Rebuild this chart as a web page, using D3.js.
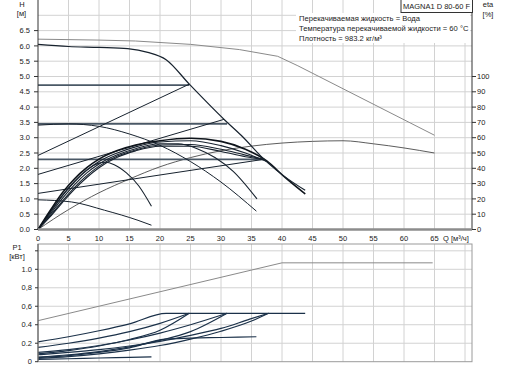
<!DOCTYPE html>
<html>
<head>
<meta charset="utf-8">
<script src="https://cdn.jsdelivr.net/npm/d3@7"></script>
<style>
  body { margin: 0; background: #fff; }
  svg { font-family: "Liberation Sans", Arial, sans-serif; }
</style>
</head>
<body>
<div class="chart"></div>
<script>
// ---- data ----
// x ticks (Q, m3/h)
var qTicks = [0, 5, 10, 15, 20, 25, 30, 35, 40, 45, 50, 55, 60, 65];
var hTicks = [0, 0.5, 1, 1.5, 2, 2.5, 3, 3.5, 4, 4.5, 5, 5.5, 6, 6.5];
var etaTicks = [0, 10, 20, 30, 40, 50, 60, 70, 80, 90, 100];
var pTicks = [0, 0.2, 0.4, 0.6, 0.8, 1.0];
var pTickLabels = ["0", "0.2", "0.4", "0,6", "0,8", "1.0"];

// QH curves [Q, H]
var grayMax = [[0, 6.22], [10, 6.19], [16, 6.16], [25, 6.05], [33, 5.88], [39.3, 5.66], [42.6, 5.35], [65, 3.08]];
var maxCurve = [[0, 6.05], [5, 5.98], [10, 5.95], [14.7, 5.91], [18, 5.79], [21, 5.55], [24.8, 4.75], [30.6, 3.58], [33.3, 3.08], [37.5, 2.21], [40.5, 1.72], [43.8, 1.28]];
var pp1 = [[0, 2.42], [24.8, 4.75]];
var pp2 = [[0, 1.8], [30.5, 3.6]];
var pp3 = [[0, 1.18], [36.9, 2.29]];
var cp1 = [[0, 4.72], [24.8, 4.72]];
var cp2 = [[0, 3.45], [31, 3.45]];
var cp3 = [[0, 2.29], [37.1, 2.29]];
var lowCurve = [[0, 0.97], [5.5, 0.9], [10.9, 0.63], [16.4, 0.3], [18.6, 0.14]];
var midCurve = [[0, 3.41], [5, 3.45], [10, 3.37], [15, 3.12], [20, 2.75], [25, 2.22], [30, 1.55], [35.8, 0.6]];
var auto1 = [[0, 0], [2, 0.62], [4, 1.2], [6, 1.66], [8, 2.02], [10, 2.3], [13, 2.58], [16, 2.76], [20, 2.9], [25, 2.98], [30, 2.88], [34, 2.62], [37.5, 2.24], [40.5, 1.7], [43.8, 1.16]];
var auto2 = [[0, 0], [2, 0.55], [4, 1.1], [6, 1.56], [8, 1.93], [10, 2.22], [13, 2.5], [16, 2.7], [20, 2.86], [25, 2.9], [30, 2.74], [34, 2.5], [37.5, 2.22]];
var auto3 = [[0, 0], [2, 0.5], [4, 1.02], [6, 1.47], [8, 1.85], [10, 2.14], [13, 2.44], [16, 2.64], [20, 2.8], [23, 2.8], [26, 2.65], [29, 2.35], [32, 1.9], [35.9, 1.0]];
var auto4 = [[0, 0], [2, 0.58], [4, 1.12], [6, 1.58], [8, 1.95], [10, 2.17], [11, 2.2], [12.5, 2.12], [14.5, 1.85], [16.5, 1.43], [18.6, 0.76]];
var auto5 = [[0, 0], [2, 0.45], [4, 0.93], [6, 1.38], [8, 1.76], [10, 2.07], [13, 2.4], [16, 2.6], [20, 2.76], [25, 2.78], [30, 2.62], [34, 2.43], [37.1, 2.29]];
var auto6 = [[0, 0], [2, 0.42], [4, 0.88], [6, 1.32], [8, 1.7], [10, 2.02], [13, 2.36], [16, 2.57], [20, 2.72], [25, 2.72], [30, 2.55], [34, 2.38], [37.1, 2.29]];

// efficiency [Q, eta %]
var etaCurve = [[0, 0], [5, 13], [10, 24], [15, 33], [20, 41], [25, 47], [30, 51.5], [35, 54.5], [40, 56.5], [45, 57.6], [50, 58], [55, 56], [60, 53.3], [65, 50]];

// power [Q, P1 kW]
var pGray = [[0, 0.444], [40, 1.07], [64.7, 1.07]];
var pMax = [[0, 0.215], [5, 0.27], [10, 0.335], [15, 0.41], [21, 0.524], [43.8, 0.524]];
var pA = [[0, 0.155], [5, 0.2], [10, 0.255], [15, 0.325], [20, 0.415], [24.8, 0.524]];
var pB = [[0, 0.085], [5, 0.12], [10, 0.17], [15, 0.24], [20, 0.34], [24.8, 0.524]];
var pC = [[0, 0.1], [5, 0.13], [10, 0.175], [15, 0.235], [20, 0.31], [25, 0.4], [31, 0.524]];
var pD = [[0, 0.05], [5, 0.075], [10, 0.11], [15, 0.16], [20, 0.23], [25, 0.325], [31, 0.524]];
var pE = [[0, 0.075], [5, 0.1], [10, 0.13], [15, 0.17], [20, 0.22], [25, 0.285], [30, 0.36], [34.7, 0.46], [37.8, 0.524]];
var pF = [[0, 0.035], [5, 0.055], [10, 0.085], [15, 0.125], [20, 0.175], [25, 0.245], [30, 0.33], [35, 0.44], [37.8, 0.524]];
var pG = [[0, 0.045], [5, 0.065], [10, 0.1], [15, 0.15], [20.8, 0.245], [25, 0.255], [30, 0.262], [35.8, 0.27]];
var pH = [[0, 0.025], [5, 0.032], [10, 0.04], [15, 0.047], [18.6, 0.052]];

var infoLines = ["Перекачиваемая жидкость = Вода", "Температура перекачиваемой жидкости = 60 °C", "Плотность = 983.2 кг/м³"];

// ---- layout ----
var svgWidth = 508;
var svgHeight = 368;
var left = 38, right = 472;
var topY0 = 229.5;           // H = 0
var botTop = 244, botY0 = 361.7;

var svg = d3.select(".chart").append("svg")
  .attr("width", svgWidth)
  .attr("height", svgHeight);

var x = d3.scaleLinear().domain([0, 70]).range([left, 465]);
var yH = d3.scaleLinear().domain([0, 7.5]).range([topY0, 0]);
var yEta = d3.scaleLinear().domain([0, 150]).range([topY0, 0]);
var yP = d3.scaleLinear().domain([0, 1.0]).range([botY0, 269.3]);

var gridColor = "#d2d2d2";
var gridQ = d3.range(5, 71, 5);

// top grid
var grid = svg.append("g");
grid.selectAll(".vt").data(gridQ).enter().append("line")
  .attr("x1", d => x(d)).attr("x2", d => x(d))
  .attr("y1", 0).attr("y2", topY0)
  .attr("stroke", gridColor);
grid.selectAll(".ht").data(d3.range(0.5, 7.01, 0.5)).enter().append("line")
  .attr("x1", left).attr("x2", right)
  .attr("y1", d => yH(d)).attr("y2", d => yH(d))
  .attr("stroke", gridColor);

// bottom grid
grid.selectAll(".vb").data(gridQ).enter().append("line")
  .attr("x1", d => x(d)).attr("x2", d => x(d))
  .attr("y1", botTop).attr("y2", botY0)
  .attr("stroke", gridColor);
grid.selectAll(".hb").data([0.2, 0.4, 0.6, 0.8, 1.0, 1.2]).enter().append("line")
  .attr("x1", left).attr("x2", right)
  .attr("y1", d => yP(d)).attr("y2", d => yP(d))
  .attr("stroke", gridColor);

// white box behind the info text
svg.append("rect")
  .attr("x", 296).attr("y", 13).attr("width", 174).attr("height", 30)
  .attr("fill", "#fff");

// curves
function lineFor(ys, curve) {
  return d3.line().x(d => x(d[0])).y(d => ys(d[1])).curve(curve || d3.curveMonotoneX);
}

function draw(gen, data, color, width) {
  svg.append("path")
    .attr("d", gen(data))
    .attr("fill", "none")
    .attr("stroke", color)
    .attr("stroke-width", width);
}

var lineH = lineFor(yH);
var lineHlin = lineFor(yH, d3.curveLinear);
var lineEta = lineFor(yEta);
var lineP = lineFor(yP);
var linePlin = lineFor(yP, d3.curveLinear);

var dark = "#17222e";

draw(lineHlin, grayMax, "#8a8a8a", 1);
draw(lineEta, etaCurve, "#4a4a4a", 0.9);
[cp1, cp2, cp3].forEach(d => draw(lineHlin, d, "#4a5866", 1.8));
[pp1, pp2, pp3].forEach(d => draw(lineHlin, d, dark, 1));
draw(lineH, lowCurve, dark, 1);
draw(lineH, midCurve, dark, 1);
[auto2, auto3, auto4, auto5, auto6].forEach(d => draw(lineH, d, dark, 1.1));
draw(lineH, auto1, "#0e141b", 1.6);
draw(lineH, maxCurve, dark, 1.2);

draw(linePlin, pGray, "#8a8a8a", 1);
[pH, pG, pF, pE, pD, pC, pB, pA, pMax].forEach(d => draw(lineP, d, "#1b3149", 1.2));

// ---- axes ----
var axisColor = "#333";
var fs = "7.5px";

// left H axis
svg.append("line").attr("x1", left).attr("x2", left).attr("y1", 0).attr("y2", topY0)
  .attr("stroke", axisColor);
svg.selectAll(".htk").data(hTicks).enter().append("line")
  .attr("x1", left - 4).attr("x2", left)
  .attr("y1", d => yH(d)).attr("y2", d => yH(d))
  .attr("stroke", axisColor);
svg.selectAll(".hlb").data(hTicks).enter().append("text")
  .attr("x", 30).attr("y", d => yH(d) + 2.6)
  .attr("text-anchor", "end").attr("font-size", fs).attr("fill", "#222")
  .text(d => d.toFixed(1));
svg.append("text").attr("x", 22).attr("y", 6.5).attr("text-anchor", "middle")
  .attr("font-size", fs).attr("fill", "#222").text("H");
svg.append("text").attr("x", 21.5).attr("y", 16).attr("text-anchor", "middle")
  .attr("font-size", fs).attr("fill", "#222").text("[м]");

// right eta axis
svg.append("line").attr("x1", right).attr("x2", right).attr("y1", 0).attr("y2", topY0)
  .attr("stroke", axisColor);
svg.selectAll(".etk").data(etaTicks).enter().append("line")
  .attr("x1", right).attr("x2", right + 4)
  .attr("y1", d => yEta(d)).attr("y2", d => yEta(d))
  .attr("stroke", axisColor);
svg.selectAll(".elb").data(etaTicks).enter().append("text")
  .attr("x", right + 5).attr("y", d => yEta(d) + 2.6)
  .attr("font-size", fs).attr("fill", "#222")
  .text(d => d);
svg.append("text").attr("x", 488).attr("y", 7).attr("text-anchor", "middle")
  .attr("font-size", fs).attr("fill", "#222").text("eta");
svg.append("text").attr("x", 488).attr("y", 16.5).attr("text-anchor", "middle")
  .attr("font-size", fs).attr("fill", "#222").text("[%]");

// Q axis
svg.append("line").attr("x1", left).attr("x2", right).attr("y1", topY0).attr("y2", topY0)
  .attr("stroke", "#8c8c8c").attr("stroke-width", 2.5);
svg.selectAll(".qlb").data(qTicks).enter().append("text")
  .attr("x", d => x(d)).attr("y", 240.5)
  .attr("text-anchor", "middle").attr("font-size", fs).attr("fill", "#222")
  .text(d => d);
svg.append("text").attr("x", 443).attr("y", 240.5)
  .attr("font-size", fs).attr("fill", "#222").text("Q [м³/ч]");

// bottom P1 frame and axis
svg.append("rect").attr("x", left).attr("y", botTop)
  .attr("width", right - left).attr("height", botY0 - botTop)
  .attr("fill", "none").attr("stroke", "#9a9a9a");
svg.append("line").attr("x1", left).attr("x2", left).attr("y1", botTop).attr("y2", botY0)
  .attr("stroke", "#555");
svg.selectAll(".ptk").data(pTicks.concat([1.2])).enter().append("line")
  .attr("x1", left - 3).attr("x2", left)
  .attr("y1", d => yP(d)).attr("y2", d => yP(d))
  .attr("stroke", axisColor);
svg.selectAll(".plb").data(pTicks).enter().append("text")
  .attr("x", 32).attr("y", (d, i) => yP(d) + 2.6)
  .attr("text-anchor", "end").attr("font-size", fs).attr("fill", "#222")
  .text((d, i) => pTickLabels[i]);
svg.append("text").attr("x", 17).attr("y", 249.5).attr("text-anchor", "middle")
  .attr("font-size", fs).attr("fill", "#222").text("P1");
svg.append("text").attr("x", 17).attr("y", 258.5).attr("text-anchor", "middle")
  .attr("font-size", fs).attr("fill", "#222").text("[кВт]");

// title box + info
svg.append("rect").attr("x", 401).attr("y", -1).attr("width", 71.5).attr("height", 13.5)
  .attr("fill", "#fff").attr("stroke", "#333");
svg.append("text").attr("x", 436.5).attr("y", 9)
  .attr("text-anchor", "middle").attr("font-size", "7.5px").attr("fill", "#222")
  .text("MAGNA1 D 80-60 F");
svg.selectAll(".info").data(infoLines).enter().append("text")
  .attr("x", 299).attr("y", (d, i) => 21 + i * 9.8)
  .attr("font-size", "7.6px").attr("fill", "#222")
  .text(d => d);
</script>
</body>
</html>
